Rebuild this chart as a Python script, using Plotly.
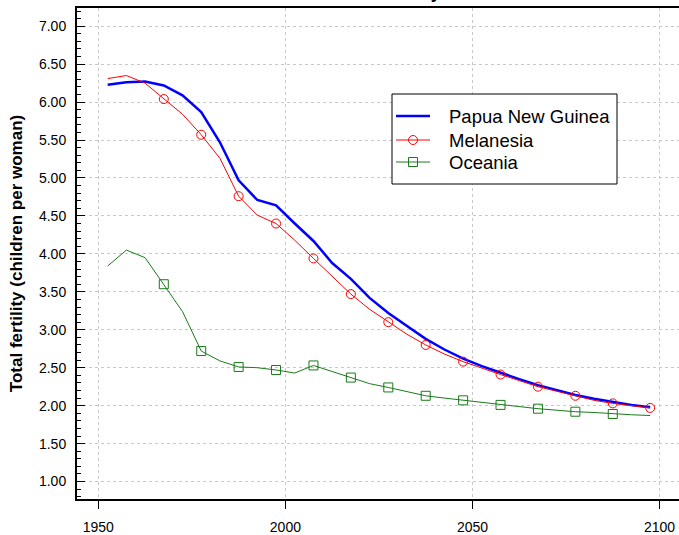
import plotly.graph_objects as go

# ---- data (5-year period midpoints) ----
years = [1952.5, 1957.5, 1962.5, 1967.5, 1972.5, 1977.5, 1982.5, 1987.5, 1992.5, 1997.5,
         2002.5, 2007.5, 2012.5, 2017.5, 2022.5, 2027.5, 2032.5, 2037.5, 2042.5, 2047.5,
         2052.5, 2057.5, 2062.5, 2067.5, 2072.5, 2077.5, 2082.5, 2087.5, 2092.5, 2097.5]

papua_new_guinea = [6.23, 6.26, 6.27, 6.22, 6.09, 5.87, 5.47, 4.97, 4.71, 4.64,
                    4.40, 4.17, 3.88, 3.67, 3.42, 3.22, 3.05, 2.88, 2.74, 2.62,
                    2.52, 2.43, 2.35, 2.27, 2.20, 2.14, 2.09, 2.05, 2.01, 1.98]

melanesia = [6.31, 6.35, 6.25, 6.04, 5.84, 5.57, 5.26, 4.76, 4.51, 4.40,
             4.18, 3.94, 3.70, 3.47, 3.27, 3.10, 2.94, 2.80, 2.68, 2.58,
             2.49, 2.41, 2.33, 2.25, 2.19, 2.13, 2.07, 2.03, 2.00, 1.97]

oceania = [3.84, 4.05, 3.95, 3.60, 3.24, 2.72, 2.59, 2.51, 2.50, 2.47,
           2.43, 2.53, 2.45, 2.37, 2.29, 2.24, 2.18, 2.13, 2.10, 2.07,
           2.04, 2.01, 1.99, 1.96, 1.94, 1.92, 1.91, 1.89, 1.88, 1.87]

x_ticks = [1950, 2000, 2050, 2100]
series_names = ["Papua New Guinea", "Melanesia", "Oceania"]
chart_title = "Total fertility"
y_title = "Total fertility (children per woman)"

BLUE = "#0000ff"
RED = "#ff0000"
GREEN = "#1a7a1a"

# plot-area geometry (pixels) used for placing the legend box
W, H = 679, 535
ML, MR, MT, MB = 77, 0, 8, 36
PW, PH = W - ML - MR, H - MT - MB


def px_x(p):
    return (p - ML) / PW


def px_y(p):
    return (H - MB - p) / PH


fig = go.Figure()

fig.add_trace(go.Scatter(x=years, y=papua_new_guinea, mode="lines",
                         line=dict(color=BLUE, width=2.5), name=series_names[0]))
fig.add_trace(go.Scatter(x=years, y=melanesia, mode="lines",
                         line=dict(color=RED, width=1), name=series_names[1]))
fig.add_trace(go.Scatter(x=years[3::2], y=melanesia[3::2], mode="markers",
                         marker=dict(symbol="circle-open", size=9, color=RED,
                                     line=dict(color=RED, width=1)),
                         name=series_names[1]))
fig.add_trace(go.Scatter(x=years, y=oceania, mode="lines",
                         line=dict(color=GREEN, width=1), name=series_names[2]))
fig.add_trace(go.Scatter(x=years[3:28:2], y=oceania[3:28:2], mode="markers",
                         marker=dict(symbol="square-open", size=9, color=GREEN,
                                     line=dict(color=GREEN, width=1)),
                         name=series_names[2]))

fig.update_layout(
    width=W, height=H,
    margin=dict(l=ML, r=MR, t=MT, b=MB, autoexpand=False),
    plot_bgcolor="white", paper_bgcolor="white",
    font=dict(family="Liberation Sans, Arial, sans-serif", size=14, color="black"),
    showlegend=False,
)

fig.update_xaxes(
    range=[1944.3, 2105.2], automargin=False,
    tickmode="array", tickvals=x_ticks, ticktext=[str(v) for v in x_ticks],
    ticks="outside", ticklen=8, tickwidth=1, tickcolor="black",
    showline=True, linecolor="black", linewidth=2, mirror=True,
    showgrid=True, gridcolor="#c8c8c8", gridwidth=1, griddash="dot",
    zeroline=False, ticklabelstandoff=6,
)

fig.update_yaxes(
    range=[0.77, 7.24], automargin=False,
    tickmode="linear", tick0=1, dtick=0.5, tickformat=".2f",
    ticks="inside", ticklen=8, tickwidth=1, tickcolor="black",
    minor=dict(dtick=0.1, ticks="inside", ticklen=4, tickcolor="black", showgrid=False),
    showline=True, linecolor="black", linewidth=2,
    showgrid=True, gridcolor="#c8c8c8", gridwidth=1, griddash="dot",
    zeroline=False, ticklabelstandoff=6,
    title=dict(text="<b>" + y_title + "</b>", font=dict(size=17), standoff=12),
)

# ---- legend box (drawn as shapes + text) ----
fig.add_shape(type="rect", xref="paper", yref="paper", layer="above",
              x0=px_x(392), x1=px_x(617), y0=px_y(184), y1=px_y(94),
              line=dict(color="black", width=1), fillcolor="white")

legend_rows = [116, 140, 162]
legend_colors = [BLUE, RED, GREEN]
legend_widths = [2.5, 1, 1]
legend_symbols = [None, "circle", "rect"]
for name, row, col, lw, sym in zip(series_names, legend_rows, legend_colors,
                                   legend_widths, legend_symbols):
    fig.add_shape(type="line", xref="paper", yref="paper", layer="above",
                  x0=px_x(396), x1=px_x(430), y0=px_y(row), y1=px_y(row),
                  line=dict(color=col, width=lw))
    if sym is not None:
        fig.add_shape(type=sym, xref="paper", yref="paper", layer="above",
                      x0=px_x(408.5), x1=px_x(417.5), y0=px_y(row + 4.5), y1=px_y(row - 4.5),
                      line=dict(color=col, width=1), fillcolor="rgba(0,0,0,0)")
    fig.add_annotation(text=name, xref="paper", yref="paper",
                       x=px_x(447), y=px_y(row), xanchor="left", yanchor="middle",
                       showarrow=False, font=dict(size=18.5, color="black"))

# ---- chart title, mostly outside the visible page ----
fig.add_annotation(text="<b>" + chart_title + "</b>", xref="paper", yref="paper",
                   x=0.515, y=px_y(4), xanchor="center", yanchor="bottom",
                   showarrow=False, font=dict(size=18, color="black"))

fig.write_html("out.html", config={"displayModeBar": False},
               post_script="document.body.style.margin='0';document.body.style.overflow='hidden';")
